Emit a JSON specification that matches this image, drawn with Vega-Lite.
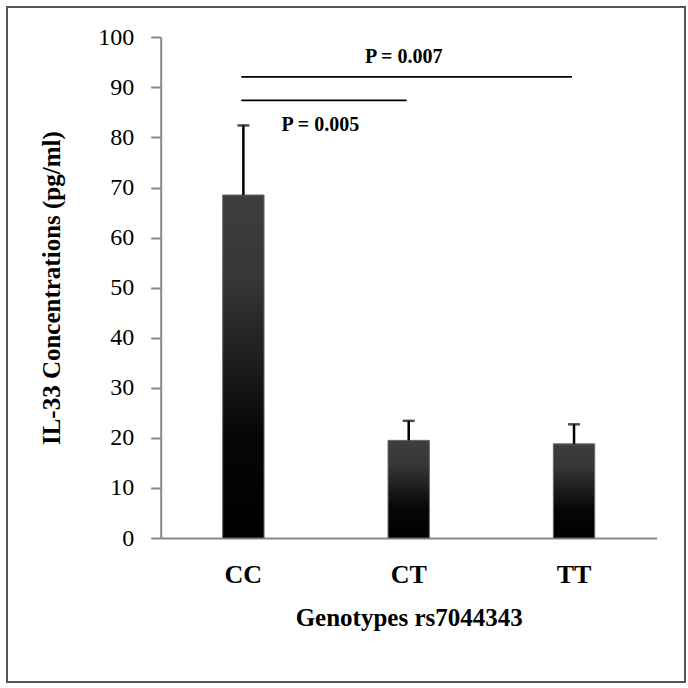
{
  "$schema": "https://vega.github.io/schema/vega-lite/v6.json",
  "width": 678,
  "height": 675,
  "autosize": {"type": "none"},
  "padding": {"left": 7, "top": 7, "right": 3, "bottom": 6},
  "background": "white",
  "config": {
    "view": {"stroke": "#555555", "strokeWidth": 2},
    "font": "Liberation Serif"
  },
  "datasets": {
    "bars": [
      {"genotype": "CC", "mean": 68.5, "upper": 82.4},
      {"genotype": "CT", "mean": 19.5, "upper": 23.4},
      {"genotype": "TT", "mean": 18.8, "upper": 22.7}
    ],
    "sig": [
      {"from": "CC", "to": "TT", "y": 92.1},
      {"from": "CC", "to": "CT", "y": 87.4}
    ],
    "labels": [
      {"label": "P = 0.007", "genotype": "CT", "y": 96.1},
      {"label": "P = 0.005", "genotype": "CC", "y": 82.4}
    ]
  },
  "layer": [
    {
      "data": {"name": "bars"},
      "mark": {
        "type": "bar",
        "fill": {
          "gradient": "linear",
          "x1": 0, "y1": 0, "x2": 0, "y2": 1,
          "stops": [
            {"offset": 0, "color": "#3e3e3e"},
            {"offset": 0.25, "color": "#363636"},
            {"offset": 0.7, "color": "#060606"},
            {"offset": 1, "color": "#000000"}
          ]
        },
        "stroke": "#666666",
        "strokeWidth": 1
      },
      "encoding": {
        "x": {
          "field": "genotype",
          "type": "nominal",
          "title": "Genotypes rs7044343",
          "scale": {
            "domain": ["CC", "CT", "TT"],
            "range": [153.7, 649.7],
            "paddingInner": 0.75,
            "paddingOuter": 0.375
          },
          "axis": {
            "orient": "bottom",
            "offset": -144,
            "ticks": false,
            "grid": false,
            "domainColor": "#888888",
            "domainWidth": 2,
            "labelAngle": 0,
            "labelFontSize": 26,
            "labelFontWeight": "bold",
            "labelColor": "black",
            "labelPadding": 23,
            "titleFontSize": 25,
            "titleFontWeight": "bold",
            "titleColor": "black",
            "titleBaseline": "middle",
            "titleY": 79
          }
        },
        "y": {
          "field": "mean",
          "type": "quantitative",
          "title": "IL-33 Concentrations (pg/ml)",
          "scale": {"domain": [0, 100], "range": [531, 30.3], "nice": false, "zero": true},
          "axis": {
            "orient": "left",
            "offset": -153.7,
            "values": [0, 10, 20, 30, 40, 50, 60, 70, 80, 90, 100],
            "grid": false,
            "tickSize": 10,
            "tickColor": "#888888",
            "tickWidth": 2,
            "domainColor": "#888888",
            "domainWidth": 2,
            "labelFontSize": 24,
            "labelColor": "black",
            "labelPadding": 17,
            "titleFontSize": 25,
            "titleFontWeight": "bold",
            "titleColor": "black",
            "titleBaseline": "middle",
            "titleX": -109
          }
        }
      }
    },
    {
      "data": {"name": "bars"},
      "mark": {"type": "rule", "color": "black", "strokeWidth": 2.5},
      "encoding": {
        "x": {"field": "genotype", "type": "nominal", "title": "Genotypes rs7044343"},
        "y": {"field": "mean", "type": "quantitative", "title": "IL-33 Concentrations (pg/ml)"},
        "y2": {"field": "upper"}
      }
    },
    {
      "data": {"name": "bars"},
      "mark": {"type": "tick", "orient": "horizontal", "color": "black", "size": 12, "thickness": 2.5},
      "encoding": {
        "x": {"field": "genotype", "type": "nominal", "title": "Genotypes rs7044343"},
        "y": {"field": "upper", "type": "quantitative", "title": "IL-33 Concentrations (pg/ml)"}
      }
    },
    {
      "data": {"name": "sig"},
      "mark": {"type": "rule", "color": "black", "strokeWidth": 1.8},
      "encoding": {
        "x": {"field": "from", "type": "nominal", "bandPosition": 0.45, "title": "Genotypes rs7044343"},
        "x2": {"field": "to", "bandPosition": 0.45},
        "y": {"field": "y", "type": "quantitative", "title": "IL-33 Concentrations (pg/ml)"}
      }
    },
    {
      "data": {"name": "labels"},
      "transform": [{"filter": "datum.label == 'P = 0.007'"}],
      "mark": {"type": "text", "fontSize": 20, "fontWeight": "bold", "color": "black", "baseline": "middle", "align": "center", "dx": -5},
      "encoding": {
        "x": {"field": "genotype", "type": "nominal", "title": "Genotypes rs7044343"},
        "y": {"field": "y", "type": "quantitative", "title": "IL-33 Concentrations (pg/ml)"},
        "text": {"field": "label"}
      }
    },
    {
      "data": {"name": "labels"},
      "transform": [{"filter": "datum.label == 'P = 0.005'"}],
      "mark": {"type": "text", "fontSize": 20, "fontWeight": "bold", "color": "black", "baseline": "middle", "align": "center", "dx": 77},
      "encoding": {
        "x": {"field": "genotype", "type": "nominal", "title": "Genotypes rs7044343"},
        "y": {"field": "y", "type": "quantitative", "title": "IL-33 Concentrations (pg/ml)"},
        "text": {"field": "label"}
      }
    }
  ]
}
